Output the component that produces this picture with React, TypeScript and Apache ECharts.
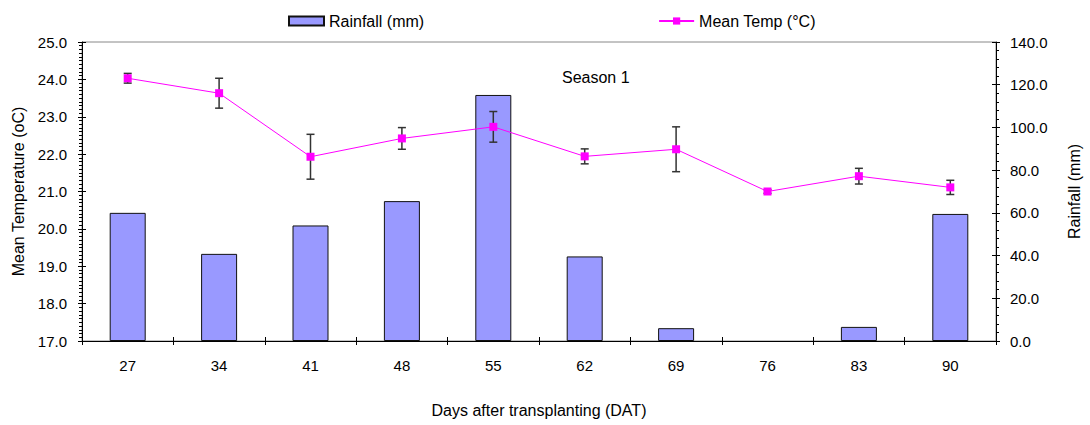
import React, { useEffect, useRef } from "react";
import * as echarts from "echarts";

const categories = ["27", "34", "41", "48", "55", "62", "69", "76", "83", "90"];
const rainfall = [60.0, 40.8, 54.1, 65.5, 115.2, 39.6, 6.0, 0, 6.6, 59.5];
const meanTemp = [24.03, 23.63, 21.93, 22.42, 22.73, 21.94, 22.13, 21.0, 21.41, 21.11];
const tempError = [0.13, 0.4, 0.6, 0.29, 0.41, 0.2, 0.6, 0.05, 0.21, 0.19];

const FONT = "'Liberation Sans', Arial, sans-serif";

export default function App() {
  const ref = useRef<HTMLDivElement>(null);
  useEffect(() => {
    if (!ref.current) return;
    const chart = echarts.init(ref.current, null, { renderer: "svg" });
    const errData = categories.map((c, i) => [i, meanTemp[i] - tempError[i], meanTemp[i] + tempError[i]]);
    const barData = rainfall.map((v) => (v === 0 ? { value: v, itemStyle: { borderWidth: 0 } } : v));
    const fmt = (v: number) => v.toFixed(1);
    chart.setOption({
      animation: false,
      backgroundColor: "#fff",
      textStyle: { fontFamily: FONT, color: "#000" },
      title: {
        text: "Season 1",
        left: 557,
        top: 64,
        textStyle: { fontFamily: FONT, fontSize: 16, fontWeight: "normal", color: "#000" },
      },
      legend: {
        top: 8,
        left: 283,
        itemGap: 234,
        itemWidth: 35,
        itemHeight: 9,
        textStyle: { fontFamily: FONT, fontSize: 16, color: "#000" },
        data: [
          { name: "Rainfall (mm)", icon: "rect" },
          { name: "Mean Temp (°C)" },
        ],
      },
      grid: {
        left: 82,
        right: 93,
        top: 42,
        bottom: 84,
        show: true,
        borderColor: "#888",
        borderWidth: 1,
      },
      xAxis: [
        {
          type: "category",
          data: categories,
          position: "bottom",
          name: "Days after transplanting (DAT)",
          nameLocation: "middle",
          nameGap: 61,
          nameTextStyle: { fontFamily: FONT, fontSize: 16, color: "#000" },
          axisLine: { lineStyle: { color: "#000", width: 1 } },
          axisTick: { show: true, length: 4, inside: false, lineStyle: { color: "#000" } },
          axisLabel: { fontFamily: FONT, fontSize: 15, color: "#000", margin: 17 },
          splitLine: { show: false },
        },
        {
          type: "category",
          data: categories,
          position: "bottom",
          axisLine: { show: false },
          axisTick: { show: true, length: 4, inside: true, lineStyle: { color: "#000" } },
          axisLabel: { show: false },
          splitLine: { show: false },
        },
      ],
      yAxis: [
        {
          type: "value",
          position: "left",
          min: 17,
          max: 25,
          interval: 1,
          name: "Mean Temperature (oC)",
          nameLocation: "middle",
          nameGap: 56,
          nameTextStyle: { fontFamily: FONT, fontSize: 16, color: "#000" },
          axisLine: { show: true, lineStyle: { color: "#000" } },
          axisTick: { show: true, length: 4, lineStyle: { color: "#000" } },
          minorTick: { show: true, splitNumber: 10, length: 3, lineStyle: { color: "#000" } },
          axisLabel: { fontFamily: FONT, fontSize: 15, color: "#000", margin: 15, formatter: fmt },
          splitLine: { show: false },
        },
        {
          type: "value",
          position: "right",
          min: 0,
          max: 140,
          interval: 20,
          name: "Rainfall (mm)",
          nameLocation: "middle",
          nameGap: 70,
          nameTextStyle: { fontFamily: FONT, fontSize: 16, color: "#000" },
          axisLine: { show: true, lineStyle: { color: "#000" } },
          axisTick: { show: true, length: 4, lineStyle: { color: "#000" } },
          minorTick: { show: true, splitNumber: 5, length: 3, lineStyle: { color: "#000" } },
          axisLabel: { fontFamily: FONT, fontSize: 15, color: "#000", margin: 14, formatter: fmt },
          splitLine: { show: false },
        },
        {
          type: "value",
          position: "left",
          min: 17,
          max: 25,
          interval: 1,
          axisLine: { show: false },
          axisTick: { show: true, inside: true, length: 4, lineStyle: { color: "#000" } },
          axisLabel: { show: false },
          splitLine: { show: false },
        },
        {
          type: "value",
          position: "right",
          min: 0,
          max: 140,
          interval: 20,
          axisLine: { show: false },
          axisTick: { show: true, inside: true, length: 4, lineStyle: { color: "#000" } },
          axisLabel: { show: false },
          splitLine: { show: false },
        },
      ],
      series: [
        {
          name: "Rainfall (mm)",
          type: "bar",
          xAxisIndex: 0,
          yAxisIndex: 1,
          data: barData,
          barWidth: 36,
          itemStyle: { color: "#9999FF", borderColor: "#111", borderWidth: 1 },
          z: 2,
        },
        {
          name: "errors",
          type: "custom",
          xAxisIndex: 0,
          yAxisIndex: 0,
          data: errData,
          z: 3,
          renderItem: (params: any, api: any) => {
            const x = api.value(0);
            const lo = api.coord([x, api.value(1)]);
            const hi = api.coord([x, api.value(2)]);
            const hw = 4;
            const style = { stroke: "#333", lineWidth: 1.5 };
            return {
              type: "group",
              children: [
                { type: "line", shape: { x1: hi[0], y1: hi[1], x2: lo[0], y2: lo[1] }, style },
                { type: "line", shape: { x1: hi[0] - hw, y1: hi[1], x2: hi[0] + hw, y2: hi[1] }, style },
                { type: "line", shape: { x1: lo[0] - hw, y1: lo[1], x2: lo[0] + hw, y2: lo[1] }, style },
              ],
            };
          },
        },
        {
          name: "Mean Temp (°C)",
          type: "line",
          xAxisIndex: 0,
          yAxisIndex: 0,
          data: meanTemp,
          symbol: "rect",
          symbolSize: 8,
          lineStyle: { color: "#FF00FF", width: 1 },
          itemStyle: { color: "#FF00FF" },
          z: 4,
        },
      ],
    });
    return () => chart.dispose();
  }, []);
  return <div ref={ref} style={{ width: 1090, height: 425, position: "absolute", left: 0, top: 0 }} />;
}
